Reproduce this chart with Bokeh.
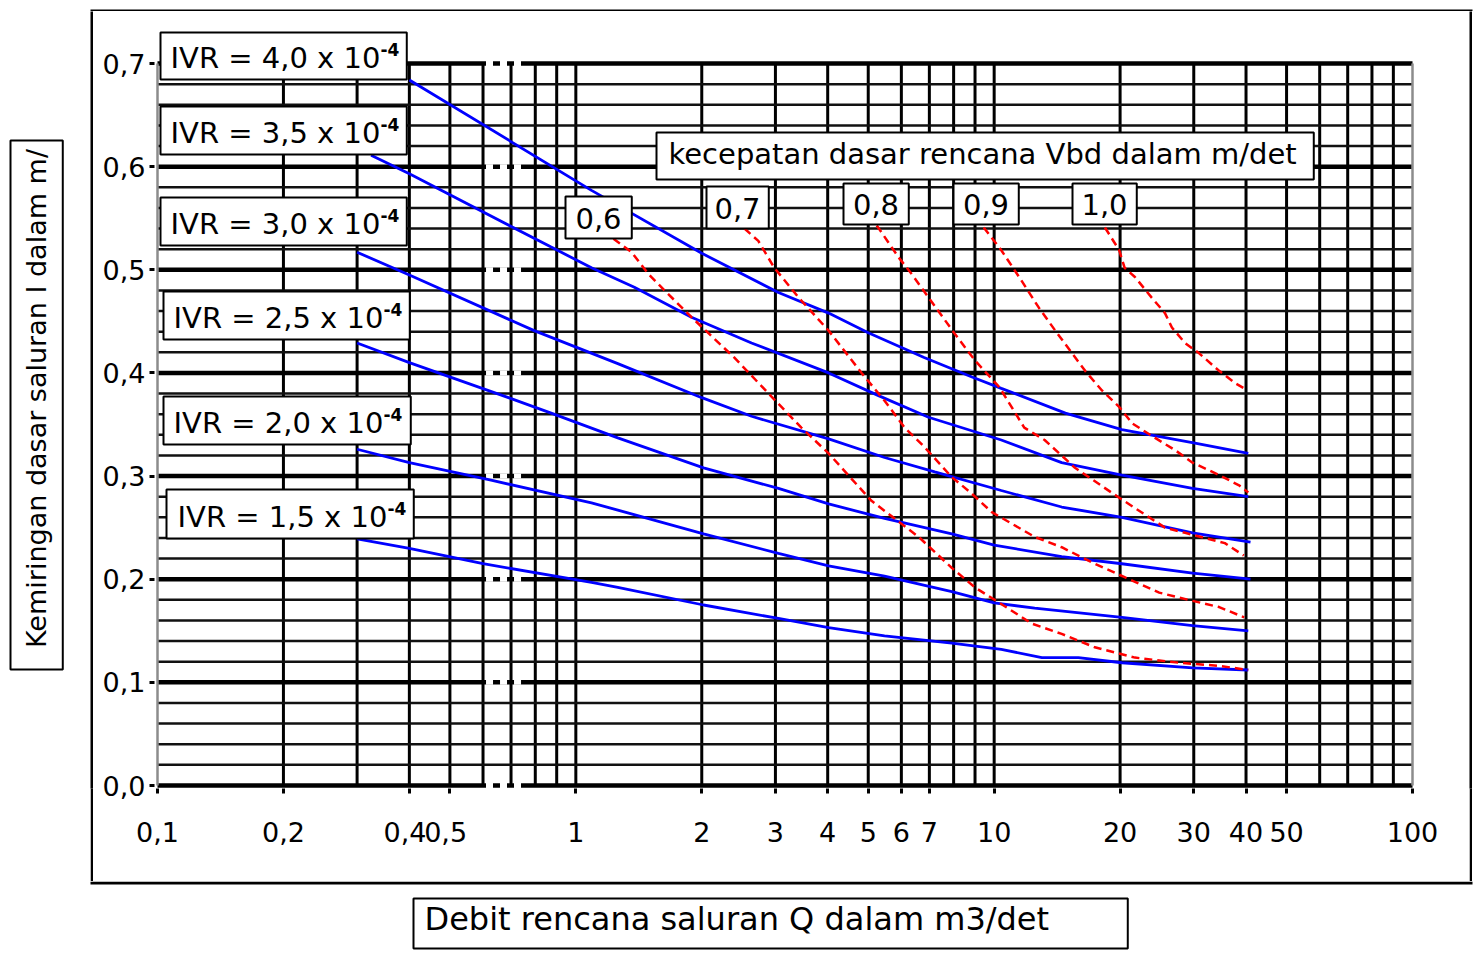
from bokeh.plotting import figure
from bokeh.models import Range1d, FixedTicker, Label
from bokeh.layouts import column, row
from bokeh.embed import file_html
from bokeh.resources import INLINE

FONT = "DejaVu Sans"

# ---------------- data ----------------
x_ticks = [0.1, 0.2, 0.4, 0.5, 1, 2, 3, 4, 5, 6, 7, 10, 20, 30, 40, 50, 100]
x_tick_labels = ["0,1", "0,2", "0,4 ", " 0,5", "1", "2", "3", "4", "5", "6", "7",
                 "10", "20", "30", "40", "50", "100"]
y_ticks = [0.0, 0.1, 0.2, 0.3, 0.4, 0.5, 0.6, 0.7]
y_tick_labels = ["0,0", "0,1", "0,2", "0,3", "0,4", "0,5", "0,6", "0,7"]

# IVR curves (blue) : Q [m3/det], I
ivr40_q = [0.4, 1.09, 2.0, 3.05, 4.02, 5.0, 6.8, 8.85, 10.4, 14.8, 20.2, 30.2, 40.5]
ivr40_i = [0.684, 0.577, 0.516, 0.478, 0.458, 0.439, 0.415, 0.396, 0.385, 0.361, 0.345, 0.332, 0.322]
ivr35_q = [0.324, 0.4, 0.873, 1.09, 1.38, 1.89, 2.63, 4.02, 5.29, 6.97, 10.4, 14.5, 20.2, 29.8, 40.5]
ivr35_i = [0.611, 0.593, 0.522, 0.502, 0.483, 0.454, 0.429, 0.400, 0.378, 0.357, 0.335, 0.313, 0.301, 0.288, 0.280]
ivr30_q = [0.3, 0.4, 0.795, 1.26, 2.0, 2.63, 4.02, 5.47, 7.21, 10.4, 14.5, 20.2, 29.8, 41]
ivr30_i = [0.517, 0.495, 0.441, 0.409, 0.376, 0.358, 0.336, 0.318, 0.304, 0.286, 0.270, 0.260, 0.245, 0.236]
ivr25_q = [0.3, 0.4, 0.69, 0.873, 1.26, 2.02, 3.05, 4.02, 5.47, 7.92, 10.0, 14.5, 20.2, 29.8, 41]
ivr25_i = [0.429, 0.410, 0.376, 0.361, 0.337, 0.308, 0.288, 0.273, 0.259, 0.244, 0.233, 0.222, 0.215, 0.206, 0.200]
ivr20_q = [0.3, 0.4, 0.627, 1.09, 1.26, 2.02, 3.05, 4.02, 5.47, 7.92, 10.0, 12.5, 20.2, 29.8, 40.5]
ivr20_i = [0.326, 0.313, 0.296, 0.274, 0.267, 0.244, 0.225, 0.213, 0.203, 0.188, 0.177, 0.172, 0.163, 0.155, 0.150]
ivr15_q = [0.3, 0.4, 0.6, 1.09, 1.26, 2.02, 3.05, 4.02, 5.47, 7.92, 10.4, 13.0, 15.9, 20.2, 29.8, 40.5]
ivr15_i = [0.239, 0.230, 0.215, 0.197, 0.192, 0.175, 0.162, 0.153, 0.145, 0.138, 0.132, 0.124, 0.124, 0.119, 0.114, 0.112]

# Vbd curves (red dashed)
v06_q = [1.23, 1.36, 1.49, 1.63, 1.89, 2.39, 2.89, 3.46, 4.02, 5.09, 6.6, 7.92, 9.0, 10.3, 12.3, 14.5, 17.4, 21.7, 27.7, 34.5, 40.5]
v06_i = [0.530, 0.517, 0.496, 0.480, 0.454, 0.415, 0.380, 0.347, 0.322, 0.276, 0.241, 0.211, 0.192, 0.177, 0.157, 0.147, 0.134, 0.124, 0.119, 0.116, 0.112]
v07_q = [2.53, 2.73, 2.98, 3.41, 4.02, 4.82, 5.47, 6.11, 6.82, 7.92, 8.84, 9.87, 11.0, 12.5, 14.5, 17.4, 20.5, 24.8, 29.8, 34.5, 39.6]
v07_i = [0.540, 0.528, 0.502, 0.473, 0.441, 0.400, 0.373, 0.347, 0.328, 0.299, 0.283, 0.265, 0.254, 0.241, 0.231, 0.215, 0.202, 0.187, 0.179, 0.173, 0.163]
v08_q = [5.24, 5.91, 6.35, 6.97, 8.05, 9.0, 10.3, 11.8, 13.2, 15.6, 19.9, 25.6, 28.6, 35.6, 39.5]
v08_i = [0.543, 0.512, 0.496, 0.473, 0.438, 0.412, 0.386, 0.347, 0.335, 0.308, 0.279, 0.250, 0.245, 0.235, 0.223]
v09_q = [9.44, 10.4, 11.6, 12.8, 14.0, 16.5, 18.1, 19.9, 21.4, 23.8, 27.1, 29.8, 34.5, 38.5, 40.5]
v09_i = [0.541, 0.519, 0.490, 0.463, 0.441, 0.402, 0.383, 0.367, 0.351, 0.339, 0.325, 0.313, 0.301, 0.291, 0.284]
v10_q = [18.4, 19.9, 20.5, 21.7, 23.8, 25.6, 26.6, 28.6, 30.9, 34.5, 37.7, 39.6]
v10_i = [0.541, 0.519, 0.502, 0.493, 0.473, 0.458, 0.444, 0.429, 0.419, 0.402, 0.390, 0.385]

ivr_texts = ["IVR = 4,0 x 10", "IVR = 3,5 x 10", "IVR = 3,0 x 10",
             "IVR = 2,5 x 10", "IVR = 2,0 x 10", "IVR = 1,5 x 10"]
ivr_sup = "-4"
v_texts = ["0,6", "0,7", "0,8", "0,9", "1,0"]
legend_title = "kecepatan dasar rencana Vbd dalam m/det"
x_title = "Debit rencana saluran Q dalam m3/det"
y_title = "Kemiringan dasar saluran I dalam m/"

# scanned-axis artefact span (white dashes on the heavy lines)
ghost_q = [0.61, 0.76]

# ---------------- layout (page pixels, top-left origin) ----------------
PAGE_W, PAGE_H = 1476, 950
CH_L, CH_R, CH_T, CH_B = 157, 1412, 63, 785          # chart area (0.1..100, 0..0.7)
OUTER = (90, 8, 1472, 884)                            # outer frame
EDGE = 3                                              # outer frame line width
ytitle_box = (10, 140, 62, 668)
xtitle_box = (413, 898, 1127, 947)
ivr_boxes = [(160, 32, 406, 78), (160, 106, 406, 153), (160, 197, 406, 244),
             (163, 291, 409, 338), (163, 396, 410, 443), (166, 489, 413, 537)]
ivr_text_x = [170, 170, 170, 173, 173, 177]
v_boxes = [(565, 196, 631, 237), (706, 186, 768, 227), (843, 183, 908, 223),
           (953, 183, 1018, 223), (1072, 183, 1136, 223)]
legend_box = (656, 132, 1313, 178)

M_X, M_Y = OUTER[0] + EDGE, OUTER[1] + EDGE
M_W, M_H = OUTER[2] - OUTER[0] - 2 * EDGE, OUTER[3] - OUTER[1] - 2 * EDGE
BOT_Y = M_Y + M_H
FR_L, FR_R, FR_B = CH_L - 3, CH_R + 3, CH_B + 3   # main frame edges (page)
DEC = (CH_R - CH_L) / 3.0
UNIT = (CH_B - CH_T) / 0.7


def strip(w, h, fill="white"):
    f = figure(width=w, height=h, x_range=Range1d(0, w), y_range=Range1d(h, 0),
               min_border=0, toolbar_location=None, output_backend="svg",
               x_axis_location=None, y_axis_location=None)
    f.outline_line_color = None
    f.background_fill_color = fill
    f.border_fill_color = fill
    f.xgrid.visible = False
    f.ygrid.visible = False
    return f


def boxed(fig, ox, oy, l, t, r, b, lw=2):
    # an (almost) empty label whose padded border forms a box, canvas units
    fig.add_layout(Label(x=l - ox, y=t - oy, x_units="canvas", y_units="canvas", text=" ",
                         text_font_size="1px", text_align="left", text_baseline="top",
                         padding=dict(left=0, right=r - l, top=0, bottom=b - t),
                         background_fill_color="white",
                         border_line_color="black", border_line_width=lw))


def text(fig, ox, oy, x, y, s, size, align="left", style="normal", angle=0):
    fig.add_layout(Label(x=x - ox, y=y - oy, x_units="canvas", y_units="canvas",
                         text=s, text_font=FONT, text_font_size=size,
                         text_color="black", text_align=align, text_baseline="middle",
                         text_font_style=style, angle=angle))


# ---------------- main chart ----------------
p = figure(width=M_W, height=M_H, x_axis_type="log",
           x_range=Range1d(10 ** (-1 + (FR_L - CH_L) / DEC), 10 ** (-1 + (FR_R - CH_L) / DEC)),
           y_range=Range1d((CH_B - FR_B) / UNIT, (CH_B - M_Y) / UNIT),
           output_backend="svg", toolbar_location=None,
           min_border_left=FR_L - M_X, min_border_right=M_X + M_W - FR_R,
           min_border_top=0, min_border_bottom=M_Y + M_H - FR_B)
p.background_fill_color = "white"
p.border_fill_color = "white"
p.outline_line_color = None
p.grid.visible = False

p.xaxis.ticker = FixedTicker(ticks=x_ticks)
p.xaxis.major_label_overrides = {t: l for t, l in zip(x_ticks, x_tick_labels)}
p.yaxis.ticker = FixedTicker(ticks=y_ticks)
p.yaxis.major_label_overrides = {t: l for t, l in zip(y_ticks, y_tick_labels)}
for ax in (p.xaxis[0], p.yaxis[0]):
    ax.axis_line_color = None
    ax.major_tick_in = 0
    ax.major_tick_out = 5
    ax.major_tick_line_width = 3
    ax.major_tick_line_color = "black"
    ax.minor_tick_line_color = None
    ax.major_label_text_font = FONT
    ax.major_label_text_font_size = "27px"
    ax.major_label_text_color = "black"
p.xaxis.major_label_standoff = 23
p.yaxis.major_label_standoff = 4

# grid drawn as segments so that it stops at the chart edges
x_lo, x_hi = x_ticks[0], x_ticks[-1]
y_lo, y_hi = y_ticks[0], y_ticks[-1]
x_grid = [k * 10.0 ** e for e in (-1, 0, 1) for k in range(1, 10)][1:]
y_minor = [round(0.02 * k, 2) for k in range(1, 35) if k % 5 != 0]
p.segment(x0=x_grid, x1=x_grid, y0=[y_lo] * len(x_grid), y1=[y_hi] * len(x_grid),
          line_color="black", line_width=3)
p.segment(x0=[x_lo] * len(y_minor), x1=[x_hi] * len(y_minor), y0=y_minor, y1=y_minor,
          line_color="#111111", line_width=2.5)
p.segment(x0=[x_lo] * len(y_ticks), x1=[x_hi] * len(y_ticks), y0=y_ticks, y1=y_ticks,
          line_color="black", line_width=4.5)
p.segment(x0=[x_lo, x_hi], x1=[x_lo, x_hi], y0=[y_lo, y_lo], y1=[y_hi, y_hi],
          line_color="#8c8c8c", line_width=2.5)

# artefact of the scanned secondary axis
p.segment(x0=[ghost_q[0]] * len(y_ticks), x1=[ghost_q[1]] * len(y_ticks),
          y0=y_ticks, y1=y_ticks, line_color="white", line_width=5, line_dash="7 7")

for q, i in [(ivr40_q, ivr40_i), (ivr35_q, ivr35_i), (ivr30_q, ivr30_i),
             (ivr25_q, ivr25_i), (ivr20_q, ivr20_i), (ivr15_q, ivr15_i)]:
    p.line(q, i, line_color="#0000ff", line_width=2.8)
for q, i in [(v06_q, v06_i), (v07_q, v07_i), (v08_q, v08_i), (v09_q, v09_i), (v10_q, v10_i)]:
    p.line(q, i, line_color="#ff0000", line_width=2.5, line_dash="8 5")

for b_ in ivr_boxes:
    boxed(p, M_X, M_Y, *b_)
for b_ in v_boxes:
    boxed(p, M_X, M_Y, *b_)
boxed(p, M_X, M_Y, *legend_box)

for s, (l, t, r, b), tx in zip(ivr_texts, ivr_boxes, ivr_text_x):
    text(p, M_X, M_Y, tx, b - 21, s, "29px")
    text(p, M_X, M_Y, tx + 210, b - 29, ivr_sup, "17px", style="bold")
for s, (l, t, r, b) in zip(v_texts, v_boxes):
    text(p, M_X, M_Y, (l + r) / 2, b - 19, s, "29px", align="center")
text(p, M_X, M_Y, legend_box[0] + 12, 153, legend_title, "29px")

# ---------------- outer frame and axis-title strips ----------------
top = strip(PAGE_W, M_Y)
top.quad(left=OUTER[0], right=OUTER[2], top=OUTER[1], bottom=M_Y,
         fill_color="black", line_color=None)

left = strip(OUTER[0], M_H)
boxed(left, 0, M_Y, *ytitle_box)
text(left, 0, M_Y, (ytitle_box[0] + ytitle_box[2]) / 2, 398, y_title, "27px",
     align="center", angle=1.5707963)
bar_l = strip(EDGE, M_H, fill="black")
bar_r = strip(EDGE, M_H, fill="black")

bottom = strip(PAGE_W, PAGE_H - BOT_Y)
bottom.quad(left=OUTER[0], right=OUTER[2], top=0, bottom=OUTER[3] - BOT_Y,
            fill_color="black", line_color=None)
boxed(bottom, 0, BOT_Y, *xtitle_box)
text(bottom, 0, BOT_Y, xtitle_box[0] + 11, 918, x_title, "32px")

layout = column(top, row(left, bar_l, p, bar_r), bottom)
open("out.html", "w").write(file_html(layout, INLINE))
